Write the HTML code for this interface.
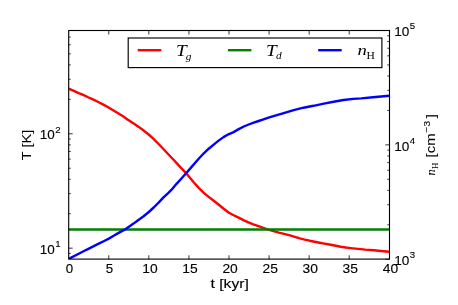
<!DOCTYPE html>
<html><head><meta charset="utf-8"><title>T and nH vs t</title>
<style>html,body{margin:0;padding:0;background:#fff;}svg{display:block;will-change:transform;}text{font-family:"Liberation Sans",sans-serif;fill:#000;stroke:#000;stroke-width:0.12px;}.m{font-family:"Liberation Serif",serif;font-style:italic;}.r{font-family:"Liberation Serif",serif;font-style:normal;}.v text,text.v{stroke-width:0.04px;}</style></head><body>
<svg width="458" height="305" viewBox="0 0 458 305">
<rect x="0" y="0" width="458" height="305" fill="#fff"/>
<defs><clipPath id="c"><rect x="68.70" y="30.50" width="320.60" height="228.75"/></clipPath></defs>
<g clip-path="url(#c)" fill="none" stroke-width="2.4" stroke-linejoin="round">
<polyline stroke="#ff0000" points="68.70,88.60 73.80,90.80 78.70,93.10 83.70,95.20 88.60,97.50 93.50,99.65 98.20,102.00 102.90,104.35 107.80,107.00 112.70,110.00 117.70,113.10 122.60,116.10 127.50,119.40 133.70,123.50 138.70,126.90 143.60,130.50 148.70,134.50 153.50,138.80 158.60,144.00 162.00,147.50 169.20,155.20 173.80,160.00 178.70,165.40 183.70,170.60 186.10,173.30 188.60,176.20 193.50,182.00 196.70,185.60 198.70,187.80 203.80,192.80 208.70,196.90 213.70,200.80 218.80,204.80 223.70,208.80 229.00,212.70 233.70,215.20 238.60,217.65 243.50,220.10 248.40,222.40 253.30,224.30 259.20,226.40 268.10,229.60 278.90,232.70 284.00,233.90 290.00,235.30 294.90,236.80 299.80,238.30 304.70,239.55 309.70,240.70 314.60,241.70 319.50,242.70 324.40,243.60 330.90,244.80 335.80,245.75 340.70,246.70 345.70,247.50 350.60,248.10 355.50,248.60 360.40,249.10 365.30,249.60 368.70,249.85 373.70,250.30 378.60,250.70 383.50,251.20 389.30,251.70"/>
<polyline stroke="#008000" points="68.70,229.50 389.30,229.50"/>
<polyline stroke="#0000ff" points="68.70,258.90 79.70,253.20 84.00,251.05 88.90,248.60 93.80,246.10 98.70,243.70 103.65,241.20 108.80,238.60 113.70,235.80 118.60,232.90 125.10,229.40 128.60,226.90 133.50,223.60 138.40,220.00 143.60,216.20 148.80,212.00 153.70,207.50 158.60,202.60 163.50,197.40 168.40,192.90 171.60,189.70 176.30,184.10 181.20,178.70 186.10,173.30 191.00,167.60 196.50,161.30 198.90,158.50 203.80,153.30 208.70,148.70 213.70,144.60 218.60,140.65 223.50,137.10 228.40,134.30 233.60,132.10 238.70,129.10 243.80,126.50 248.70,124.50 253.70,122.60 258.60,121.00 263.50,119.40 268.50,117.70 273.50,116.10 278.60,114.60 283.80,113.10 288.70,111.60 293.70,110.10 298.60,108.90 303.50,107.70 308.50,106.70 313.50,105.80 323.80,103.60 333.70,101.70 343.50,100.00 353.30,98.90 361.20,98.35 373.00,97.25 389.30,95.70"/>
</g>
<path d="M108.78 259.25v-4M108.78 30.50v4M148.85 259.25v-4M148.85 30.50v4M188.93 259.25v-4M188.93 30.50v4M229.00 259.25v-4M229.00 30.50v4M269.08 259.25v-4M269.08 30.50v4M309.15 259.25v-4M309.15 30.50v4M349.22 259.25v-4M349.22 30.50v4M68.70 248.17h4M68.70 133.79h4M68.70 253.40h2M68.70 213.74h2M68.70 193.60h2M68.70 179.31h2M68.70 168.22h2M68.70 159.16h2M68.70 151.51h2M68.70 144.88h2M68.70 139.02h2M68.70 99.36h2M68.70 79.22h2M68.70 64.93h2M68.70 53.85h2M68.70 44.79h2M68.70 37.13h2M389.30 259.25h-4M389.30 144.88h-4M389.30 30.50h-4M389.30 224.82h-2M389.30 204.68h-2M389.30 190.39h-2M389.30 179.31h-2M389.30 170.25h-2M389.30 162.59h-2M389.30 155.96h-2M389.30 150.11h-2M389.30 110.44h-2M389.30 90.30h-2M389.30 76.01h-2M389.30 64.93h-2M389.30 55.87h-2M389.30 48.22h-2M389.30 41.58h-2M389.30 35.73h-2" stroke="#000" stroke-width="0.8" fill="none"/>
<rect x="68.70" y="30.50" width="320.80" height="228.60" fill="none" stroke="#000" stroke-width="1.12"/>
<rect x="128.2" y="38" width="253.7" height="29.6" fill="#fff" stroke="#000" stroke-width="1.15"/>
<g stroke-width="2.4" fill="none"><path d="M137.7 50.2H161.3" stroke="#ff0000"/><path d="M227.9 50.2H251.4" stroke="#008000"/><path d="M318.2 50.2H341.7" stroke="#0000ff"/></g>
<text class="m" transform="translate(176.10 55.70) scale(1.160 1)" font-size="16.60" style="stroke-width:0.00px">T</text>
<text class="m" transform="translate(185.80 59.80) scale(1.050 1)" font-size="10.80" style="stroke-width:0.00px">g</text>
<text class="m" transform="translate(266.10 55.70) scale(1.160 1)" font-size="16.60" style="stroke-width:0.00px">T</text>
<text class="m" transform="translate(276.10 59.00) scale(1.050 1)" font-size="10.80" style="stroke-width:0.00px">d</text>
<text class="m" transform="translate(357.60 54.50) scale(1.200 1)" font-size="15.60" style="stroke-width:0.00px">n</text>
<text class="r" transform="translate(366.60 59.10) scale(1.030 1)" font-size="11.20" style="stroke-width:0.00px">H</text>
<text x="69.50" y="273.1" font-size="13" text-anchor="middle" textLength="7.4" lengthAdjust="spacingAndGlyphs">0</text>
<text x="109.58" y="273.1" font-size="13" text-anchor="middle" textLength="7.4" lengthAdjust="spacingAndGlyphs">5</text>
<text x="149.95" y="273.1" font-size="13" text-anchor="middle" textLength="15.4" lengthAdjust="spacingAndGlyphs">10</text>
<text x="190.03" y="273.1" font-size="13" text-anchor="middle" textLength="15.4" lengthAdjust="spacingAndGlyphs">15</text>
<text x="230.10" y="273.1" font-size="13" text-anchor="middle" textLength="15.4" lengthAdjust="spacingAndGlyphs">20</text>
<text x="270.18" y="273.1" font-size="13" text-anchor="middle" textLength="15.4" lengthAdjust="spacingAndGlyphs">25</text>
<text x="310.25" y="273.1" font-size="13" text-anchor="middle" textLength="15.4" lengthAdjust="spacingAndGlyphs">30</text>
<text x="350.32" y="273.1" font-size="13" text-anchor="middle" textLength="15.4" lengthAdjust="spacingAndGlyphs">35</text>
<text x="390.40" y="273.1" font-size="13" text-anchor="middle" textLength="15.4" lengthAdjust="spacingAndGlyphs">40</text>
<text x="229.7" y="287.8" font-size="13" text-anchor="middle" textLength="38.2" lengthAdjust="spacingAndGlyphs">t [kyr]</text>
<text x="39.7" y="253.57" font-size="13" textLength="15" lengthAdjust="spacingAndGlyphs">10</text>
<text x="55.3" y="246.97" font-size="9.4" textLength="5.4" lengthAdjust="spacingAndGlyphs">1</text>
<text x="39.7" y="139.19" font-size="13" textLength="15" lengthAdjust="spacingAndGlyphs">10</text>
<text x="55.3" y="132.59" font-size="9.4" textLength="5.4" lengthAdjust="spacingAndGlyphs">2</text>
<text x="394.3" y="265.05" font-size="13" textLength="15.1" lengthAdjust="spacingAndGlyphs">10</text>
<text x="409.8" y="258.15" font-size="9.6" textLength="5.4" lengthAdjust="spacingAndGlyphs">3</text>
<text x="394.3" y="150.68" font-size="13" textLength="15.1" lengthAdjust="spacingAndGlyphs">10</text>
<text x="409.8" y="143.78" font-size="9.6" textLength="5.4" lengthAdjust="spacingAndGlyphs">4</text>
<text x="394.3" y="36.30" font-size="13" textLength="15.1" lengthAdjust="spacingAndGlyphs">10</text>
<text x="409.8" y="29.40" font-size="9.6" textLength="5.4" lengthAdjust="spacingAndGlyphs">5</text>
<text transform="translate(31.4 160.3) rotate(-90)" class="v" font-size="13" textLength="30.6" lengthAdjust="spacingAndGlyphs">T [K]</text>
<g class="v" transform="translate(435.1 175.6) rotate(-90)"><text class="m" x="0" y="0.3" font-size="12.5">n<tspan class="r" font-size="8.8" dy="2.6" dx="0.4">H</tspan></text><text x="18.2" y="-0.5" font-size="13" textLength="24" lengthAdjust="spacingAndGlyphs">[cm</text><text x="42.7" y="-5.4" font-size="9.4" textLength="12.2" lengthAdjust="spacingAndGlyphs">−3</text><text x="57.3" y="-0.3" font-size="13" textLength="4.2" lengthAdjust="spacingAndGlyphs">]</text></g>
</svg></body></html>
